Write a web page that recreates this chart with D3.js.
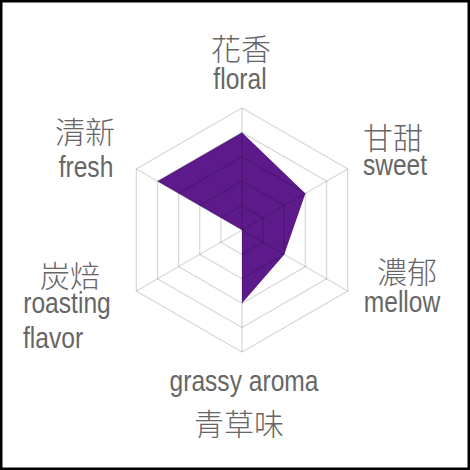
<!DOCTYPE html>
<html>

<head>
    <meta charset="utf-8">
    <script src="https://d3js.org/d3.v7.min.js"></script>
    <style>
        body { margin: 0; background: #fff; }
        .lat { font-family: "Liberation Sans", Arial, sans-serif; font-size: 30px; fill: #666; }
        .cjk { font-family: "Noto Sans CJK TC", "Noto Sans CJK SC", sans-serif; font-size: 30px; font-weight: 300; fill: #666; }
    </style>
</head>

<body>
    <div id="viz"></div>

    <script>

        // axes, clockwise from the top
        var axes = ["floral", "sweet", "mellow", "grassy aroma", "roasting flavor", "fresh"]
        var values = [4, 3, 2, 3, 0, 4]
        var levels = [1, 2, 3, 4, 5]
        var maxValue = 5

        // label lines: [axis index, text, class, x, y, anchor]
        var labels = [
            [0, "花香", "cjk", 241, 47, "middle"],
            [0, "floral", "lat", 240, 89, "middle"],
            [1, "甘甜", "cjk", 393, 136, "middle"],
            [1, "sweet", "lat", 395, 175, "middle"],
            [2, "濃郁", "cjk", 407, 270, "middle"],
            [2, "mellow", "lat", 402, 312, "middle"],
            [3, "grassy aroma", "lat", 244, 391, "middle"],
            [3, "青草味", "cjk", 239, 422, "middle"],
            [4, "炭焙", "cjk", 70, 274, "middle"],
            [4, "roasting", "lat", 67, 313, "middle"],
            [4, "flavor", "lat", 23, 348, "start"],
            [5, "清新", "cjk", 85, 130, "middle"],
            [5, "fresh", "lat", 86, 177, "middle"]
        ]

        var W = 470, H = 470
        var cx = 242, cy = 230, R = 122
        var narrow = 0.82   // latin labels are a narrow face

        var svg = d3.select("#viz")
            .append("svg")
            .attr("width", W)
            .attr("height", H)

        svg.append("rect")
            .attr("x", 1.25).attr("y", 1.25)
            .attr("width", W - 2.5).attr("height", H - 2.5)
            .attr("fill", "#fff")
            .attr("stroke", "#000")
            .attr("stroke-width", 2.5)

        var g = svg.append("g")
            .attr("transform", "translate(" + cx + "," + cy + ")")

        var r = d3.scaleLinear().domain([0, maxValue]).range([0, R])
        var angle = d3.scaleLinear().domain([0, axes.length]).range([0, 2 * Math.PI])

        var radial = d3.lineRadial()
            .angle(function (d, i) { return angle(i) })
            .radius(function (d) { return r(d) })
            .curve(d3.curveLinearClosed)

        // data polygon
        g.append("path")
            .datum(values)
            .attr("d", radial)
            .attr("fill", "#5c1a8b")

        // grid drawn on top, translucent so it darkens the fill
        g.selectAll(".level")
            .data(levels)
            .enter()
            .append("path")
            .attr("d", function (lv) { return radial(axes.map(function () { return lv })) })
            .attr("fill", "none")
            .attr("stroke", "#000")
            .attr("stroke-opacity", 0.15)
            .attr("stroke-width", 1.3)

        g.selectAll(".spoke")
            .data(axes)
            .enter()
            .append("line")
            .attr("x1", 0).attr("y1", 0)
            .attr("x2", function (d, i) { return r(maxValue) * Math.sin(angle(i)) })
            .attr("y2", function (d, i) { return -r(maxValue) * Math.cos(angle(i)) })
            .attr("stroke", "#000")
            .attr("stroke-opacity", 0.15)
            .attr("stroke-width", 1.3)

        svg.selectAll(".label")
            .data(labels)
            .enter()
            .append("text")
            .attr("class", function (d) { return d[2] })
            .attr("transform", function (d) {
                var s = d[2] == "lat" ? narrow : 1
                return "translate(" + d[3] + "," + d[4] + ") scale(" + s + ",1)"
            })
            .attr("text-anchor", function (d) { return d[5] })
            .attr("dominant-baseline", function (d) { return d[2] == "cjk" ? "central" : "alphabetic" })
            .text(function (d) { return d[1] })

    </script>
</body>

</html>
